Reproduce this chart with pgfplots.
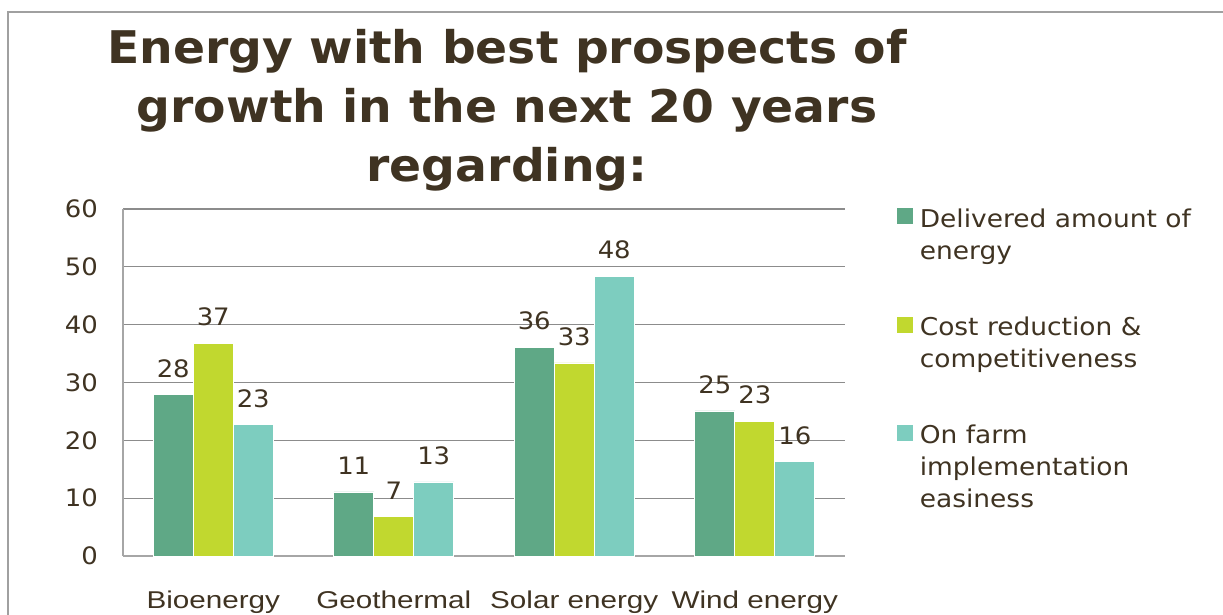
\documentclass[border=0pt]{standalone}
\usepackage{fontspec}
\usepackage{pgfplots}
\pgfplotsset{compat=1.18}
\setmainfont{DejaVu Sans}
\newfontfamily\vfont[FakeStretch=1.08]{DejaVu Sans}
\newfontfamily\tfont[FakeStretch=1.05]{DejaVu Sans}
\newfontfamily\cfont[FakeStretch=1.22]{Liberation Sans}
\definecolor{c1}{HTML}{5FA886}
\definecolor{c2}{HTML}{C1D82F}
\definecolor{c3}{HTML}{7DCDBF}
\definecolor{txt}{HTML}{3F3322}
\definecolor{gridc}{HTML}{8C8C8C}
\definecolor{axisc}{HTML}{A6A6A6}
\definecolor{framec}{HTML}{A0A0A0}
\begin{document}
\begin{tikzpicture}[x=1pt,y=1pt]
\useasboundingbox (0,0) rectangle (1223,614);
\draw[framec, line width=2pt] (8.3,-2) -- (8.3,602.3) -- (1225,602.3);
\begin{axis}[
  at={(123pt,58pt)}, anchor=south west,
  scale only axis, width=722pt, height=347pt,
  xmin=-0.5, xmax=3.5, ymin=0, ymax=60,
  ybar=0pt, bar width=40pt,
  xtick={0,1,2,3},
  xticklabels={Bioenergy,Geothermal,Solar energy,Wind energy},
  ytick={0,10,...,60},
  major tick length=0pt,
  axis x line*=bottom, axis y line*=left,
  axis line style={-, draw=axisc, line width=1.5pt},
  ymajorgrids, grid style={draw=gridc, line width=1.3pt},
  /pgf/number format/assume math mode=true,
  yticklabel style={font=\fontsize{24}{28}\vfont, text=txt, inner sep=0pt, anchor=east, xshift=-25pt},
  xticklabel style={font=\fontsize{24.3}{28}\cfont, text=txt, inner sep=0pt, anchor=base, yshift=-52.3pt},
  nodes near coords={\pgfmathprintnumber[fixed,precision=0]{\pgfplotspointmeta}},
  every node near coord/.append style={font=\fontsize{24}{28}\vfont, text=txt, inner sep=0pt, anchor=south, yshift=17pt},
  title={Energy with best prospects of\\growth in the next 20 years\\regarding:},
  title style={at={(0.5319,1.5005)}, anchor=north, font=\fontsize{45}{59}\tfont\bfseries, text=txt, align=center, inner sep=0pt},
  legend style={at={(1.072,1.0029)}, anchor=north west, draw=none, fill=none, inner sep=0pt, row sep=56pt,
    font=\fontsize{24.5}{32}\vfont, text=txt, nodes={inner sep=0pt, align=left}},
  legend cell align=left,
]
\addplot[fill=c1, draw=white, line width=0.6pt,
  legend image code/.code={\fill[c1] (0pt,11pt) rectangle (15pt,26pt); \path (22pt,11pt);}]
  coordinates {(0,27.9) (1,11.1) (2,36.1) (3,25.1)};
\addplot[fill=c2, draw=white, line width=0.6pt,
  legend image code/.code={\fill[c2] (0pt,11pt) rectangle (15pt,26pt); \path (22pt,11pt);}]
  coordinates {(0,36.8) (1,6.8) (2,33.4) (3,23.3)};
\addplot[fill=c3, draw=white, line width=0.6pt,
  legend image code/.code={\fill[c3] (0pt,27pt) rectangle (15pt,42pt); \path (22pt,27pt);}]
  coordinates {(0,22.7) (1,12.8) (2,48.4) (3,16.3)};
\legend{{Delivered amount of\\energy},{Cost reduction \&\\competitiveness},{On farm\\implementation\\easiness}}
\end{axis}
\end{tikzpicture}
\end{document}
